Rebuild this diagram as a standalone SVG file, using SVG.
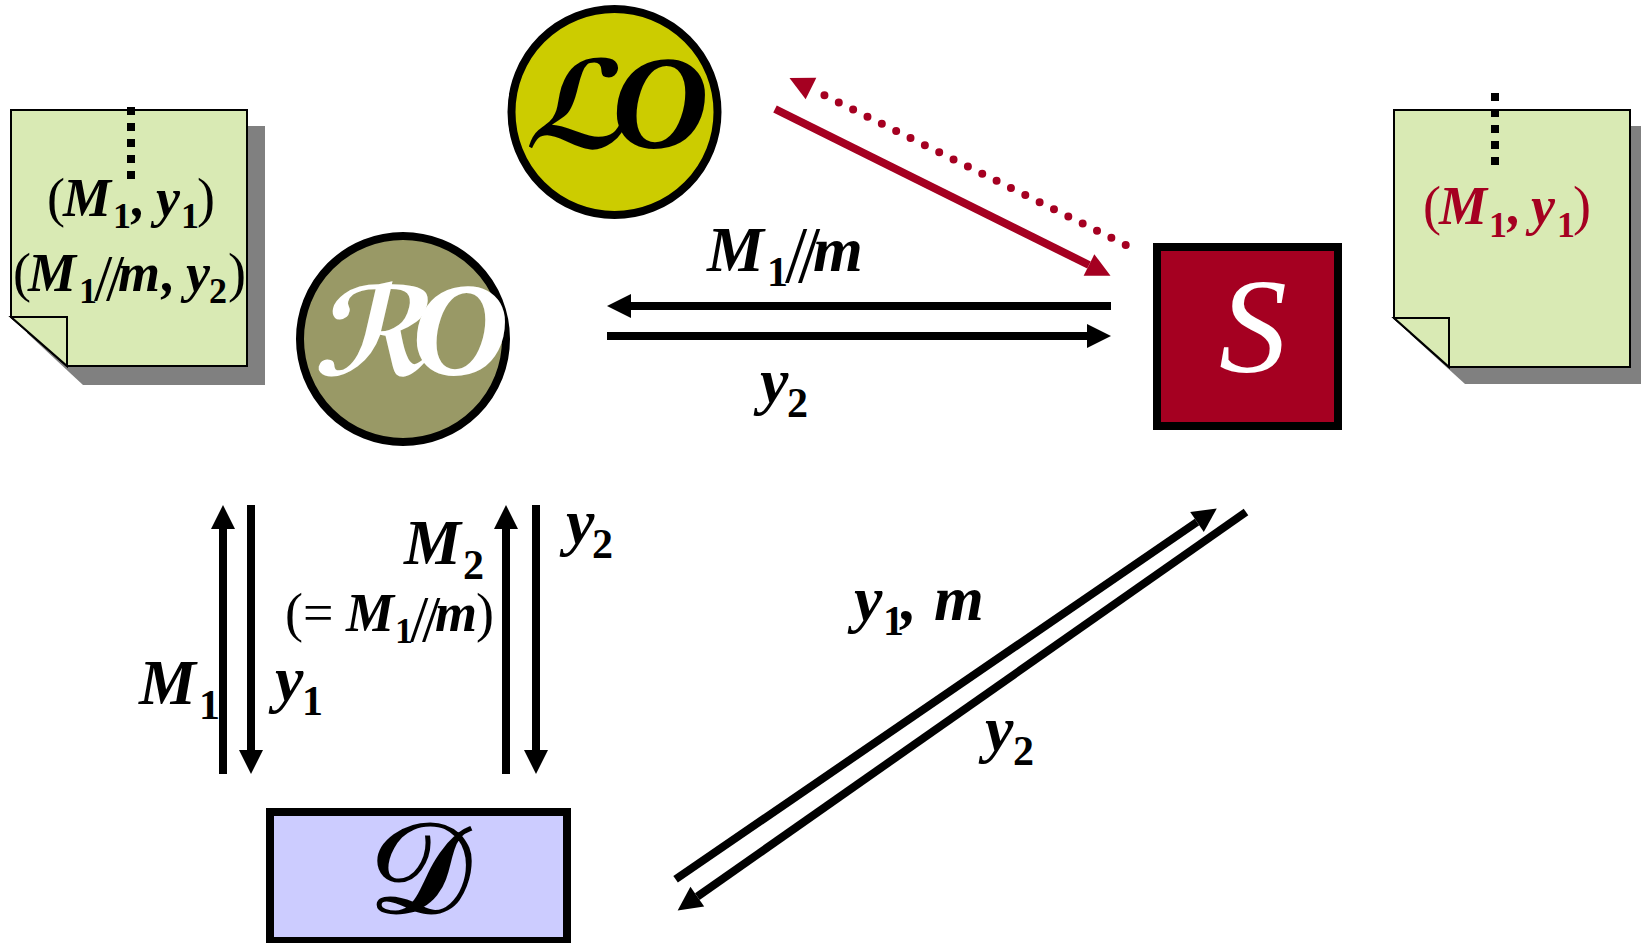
<svg xmlns="http://www.w3.org/2000/svg" width="1641" height="943" viewBox="0 0 1641 943">
<style>
text{font-family:"Liberation Serif","Times New Roman",serif;fill:#000}
.lg{font-size:64px;font-weight:bold;font-style:italic}
.md{font-size:54px;font-weight:bold;font-style:italic}
.sl{font-size:42px;font-style:normal;font-weight:bold}
.sm{font-size:36px;font-style:normal;font-weight:bold}
.pa{font-style:normal;font-weight:normal}
.sa{font-size:80px;font-style:normal;font-weight:normal}
.sb{font-size:66px;font-style:normal;font-weight:normal}
.big{font-size:134px;font-weight:bold;font-style:italic}
.scr{font-family:"DejaVu Sans",sans-serif;font-weight:bold;font-style:normal;font-size:122px}
.w{fill:#fff}
.red{fill:#A50021}
.note{fill:#D9EAB4;stroke:#000;stroke-width:2}
.shadow{fill:#808080}
.dots{fill:none;stroke:#000;stroke-width:8;stroke-dasharray:8 8}
.node{stroke:#000;stroke-width:8}
.a{stroke:#000;stroke-width:8;fill:none;marker-end:url(#ah)}
.r{stroke:#A50021;stroke-width:8;fill:none;marker-end:url(#rh)}
.rd{stroke:#A50021;stroke-width:8;fill:none;stroke-linecap:round;stroke-dasharray:0 16.02;marker-end:url(#rh)}
</style>
<defs>
<marker id="ah" markerUnits="userSpaceOnUse" markerWidth="26" markerHeight="26" refX="1" refY="12.5" orient="auto" overflow="visible"><path d="M1,.5 L25,12.5 L1,24.5Z" fill="#000"/></marker>
<marker id="rh" markerUnits="userSpaceOnUse" markerWidth="26" markerHeight="26" refX="1" refY="12.5" orient="auto" overflow="visible"><path d="M1,.5 L25,12.5 L1,24.5Z" fill="#A50021"/></marker>
</defs>
<rect width="1641" height="943" fill="#fff"/>

<g id="note-left">
<polygon class="shadow" points="27,126 265,126 265,385 83,385 27,333"/>
<polygon class="note" points="11,110 247,110 247,366 67,366 11,317"/>
<polygon class="note" points="11,317 67,317 67,366"/>
<line class="dots" x1="131" y1="107" x2="131" y2="181"/>
<text class="md"><tspan class="pa" x="47" y="216">(</tspan><tspan x="63" y="216">M</tspan><tspan class="sm" x="113" y="228">1</tspan><tspan x="132" y="216">,</tspan><tspan x="156" y="216">y</tspan><tspan class="sm" x="181" y="228">1</tspan><tspan class="pa" x="197" y="216">)</tspan></text>
<text class="md"><tspan class="pa" x="13" y="291">(</tspan><tspan x="28" y="291">M</tspan><tspan class="sm" x="79" y="303">1</tspan><tspan class="sb" x="94" y="300">/</tspan><tspan class="sb" x="106" y="300">/</tspan><tspan x="118" y="291">m</tspan><tspan x="162" y="291">,</tspan><tspan x="186" y="291">y</tspan><tspan class="sm" x="209" y="303">2</tspan><tspan class="pa" x="228" y="291">)</tspan></text>
</g>

<g id="note-right">
<polygon class="shadow" points="1410,126 1641,126 1641,384 1465,384 1410,334"/>
<polygon class="note" points="1394,110 1630,110 1630,367 1449,367 1394,318"/>
<polygon class="note" points="1394,318 1449,318 1449,367"/>
<line class="dots" x1="1495" y1="93" x2="1495" y2="166"/>
<text class="md red"><tspan class="pa" x="1423" y="224">(</tspan><tspan x="1439" y="224">M</tspan><tspan class="sm" x="1489" y="237">1</tspan><tspan x="1508" y="224">,</tspan><tspan x="1531" y="224">y</tspan><tspan class="sm" x="1557" y="237">1</tspan><tspan class="pa" x="1573" y="224">)</tspan></text>
</g>

<g id="node-LO">
<circle class="node" cx="614.5" cy="112" r="103" fill="#CCCC00"/>
<text class="scr" transform="translate(524 148) skewX(-13)">ℒ</text>
<text class="big" x="612" y="148">O</text>
</g>

<g id="node-RO">
<circle class="node" cx="403" cy="339" r="103" fill="#999966"/>
<text class="scr w" transform="translate(313 375) skewX(-13)">ℛ</text>
<text class="big w" x="412" y="375">O</text>
</g>

<g id="node-S">
<rect class="node" x="1157" y="247" width="181" height="179" fill="#A50021"/>
<text class="w" x="1219" y="372" font-size="136" font-style="italic">S</text>
</g>

<g id="node-D">
<rect class="node" x="270" y="812" width="297" height="129" fill="#CCCCFF"/>
<text x="369" y="912" font-size="127" font-family="DejaVu Sans" stroke="#000" stroke-width="3">𝒟</text>
</g>

<g id="connectors">
<line class="r" x1="775" y1="109" x2="1089" y2="265"/>
<line class="rd" x1="1125.7" y1="245" x2="811" y2="88.6"/>
<line class="a" x1="1111" y1="306" x2="631" y2="306"/>
<line class="a" x1="607" y1="336" x2="1087" y2="336"/>
<line class="a" x1="223" y1="774" x2="223" y2="529"/>
<line class="a" x1="251" y1="505" x2="251" y2="750"/>
<line class="a" x1="506" y1="774" x2="506" y2="529"/>
<line class="a" x1="536" y1="505" x2="536" y2="750"/>
<line class="a" x1="675.6" y1="879.3" x2="1197" y2="522"/>
<line class="a" x1="1246" y1="512" x2="697.3" y2="896.6"/>
</g>

<g id="labels">
<text class="lg"><tspan x="707" y="271">M</tspan><tspan class="sl" x="767" y="286">1</tspan><tspan class="sa" x="785" y="282">/</tspan><tspan class="sa" x="798" y="282">/</tspan><tspan x="813" y="271">m</tspan></text>
<text class="lg"><tspan x="760" y="402">y</tspan><tspan class="sl" x="787" y="417">2</tspan></text>
<text class="lg"><tspan x="139" y="704">M</tspan><tspan class="sl" x="199" y="719">1</tspan></text>
<text class="lg"><tspan x="275" y="700">y</tspan><tspan class="sl" x="302" y="715">1</tspan></text>
<text class="lg"><tspan x="404" y="564">M</tspan><tspan class="sl" x="463" y="579">2</tspan></text>
<text class="md"><tspan class="pa" x="285" y="631">(=</tspan><tspan x="346" y="631">M</tspan><tspan class="sm" x="395" y="643">1</tspan><tspan class="sb" x="410" y="641">/</tspan><tspan class="sb" x="422" y="641">/</tspan><tspan x="435" y="631">m</tspan><tspan class="pa" x="476" y="631">)</tspan></text>
<text class="lg"><tspan x="566" y="543">y</tspan><tspan class="sl" x="592" y="558">2</tspan></text>
<text class="lg"><tspan x="854" y="620">y</tspan><tspan class="sl" x="883" y="635">1</tspan><tspan x="901" y="620">,</tspan><tspan x="934" y="620">m</tspan></text>
<text class="lg"><tspan x="985" y="750">y</tspan><tspan class="sl" x="1013" y="765">2</tspan></text>
</g>
</svg>
